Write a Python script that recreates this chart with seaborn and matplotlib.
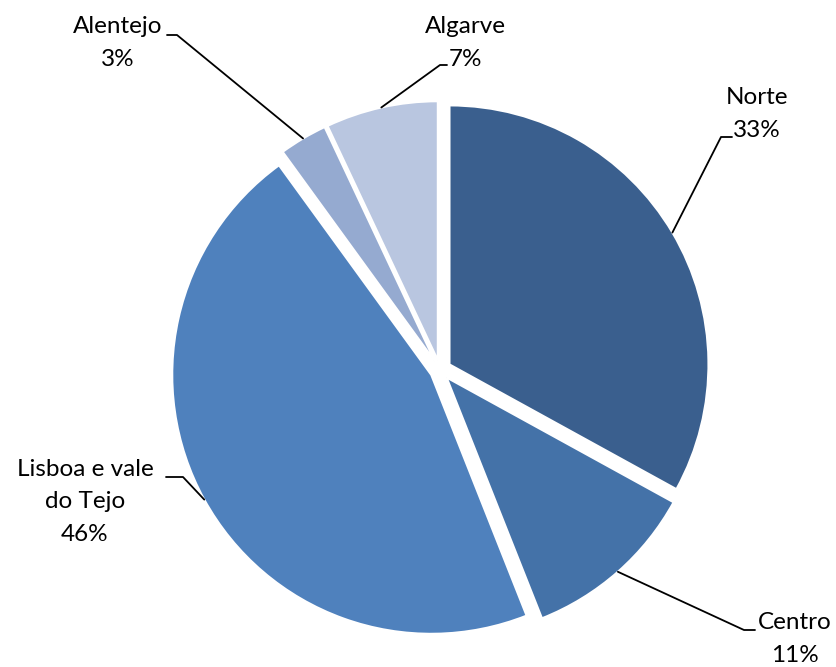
import numpy as np
import seaborn as sns
import matplotlib.pyplot as plt

regions = ["Norte", "Centro", "Lisboa e vale\ndo Tejo", "Alentejo", "Algarve"]
shares = [33, 11, 46, 3, 7]
colors = ["#3A5F8E", "#4472A8", "#4F81BD", "#95AAD0", "#B9C6E0"]

W, H = 836, 667
# layout in pixel coords (y downwards): text centre, elbow, end of short tick
text_pos = [(757, 114), (795, 639), (85, 502), (118, 43), (465, 43)]
elbows = [((721, 137), (732, 137)), ((744, 630), (755, 630)),
          ((183, 477), (166, 477)), ((177, 35), (167, 35)),
          ((440, 65), (447, 65))]
explode = [11, 10, 10, 10, 10]
cx, cy, R = 440, 370, 259

sns.set_theme(style="white")
plt.rcParams['font.family'] = ['Lato', 'DejaVu Sans']

fig = plt.figure(figsize=(W / 100, H / 100), dpi=100)
ax = fig.add_axes([0, 0, 1, 1])

wedges, _ = ax.pie(shares, colors=colors, explode=explode, startangle=90,
                   counterclock=False, radius=R, center=(cx, H - cy),
                   wedgeprops=dict(edgecolor="white", linewidth=1.5))
ax.set_xlim(0, W)
ax.set_ylim(0, H)
ax.set_aspect("equal")
ax.axis("off")

for w, name, pct, tp, (e1, e2) in zip(wedges, regions, shares, text_pos, elbows):
    mid = np.deg2rad((w.theta1 + w.theta2) / 2)
    ox, oy = w.center
    ax_x = ox + w.r * np.cos(mid)
    ax_y = oy + w.r * np.sin(mid)
    ax.plot([ax_x, e1[0], e2[0]], [ax_y, H - e1[1], H - e2[1]],
            color="black", lw=1.3)
    ax.text(tp[0], H - tp[1], f"{name}\n{pct}%", ha="center", va="center",
            fontsize=17.5, linespacing=1.7, color="black")

fig.savefig("out.png", dpi=100)
